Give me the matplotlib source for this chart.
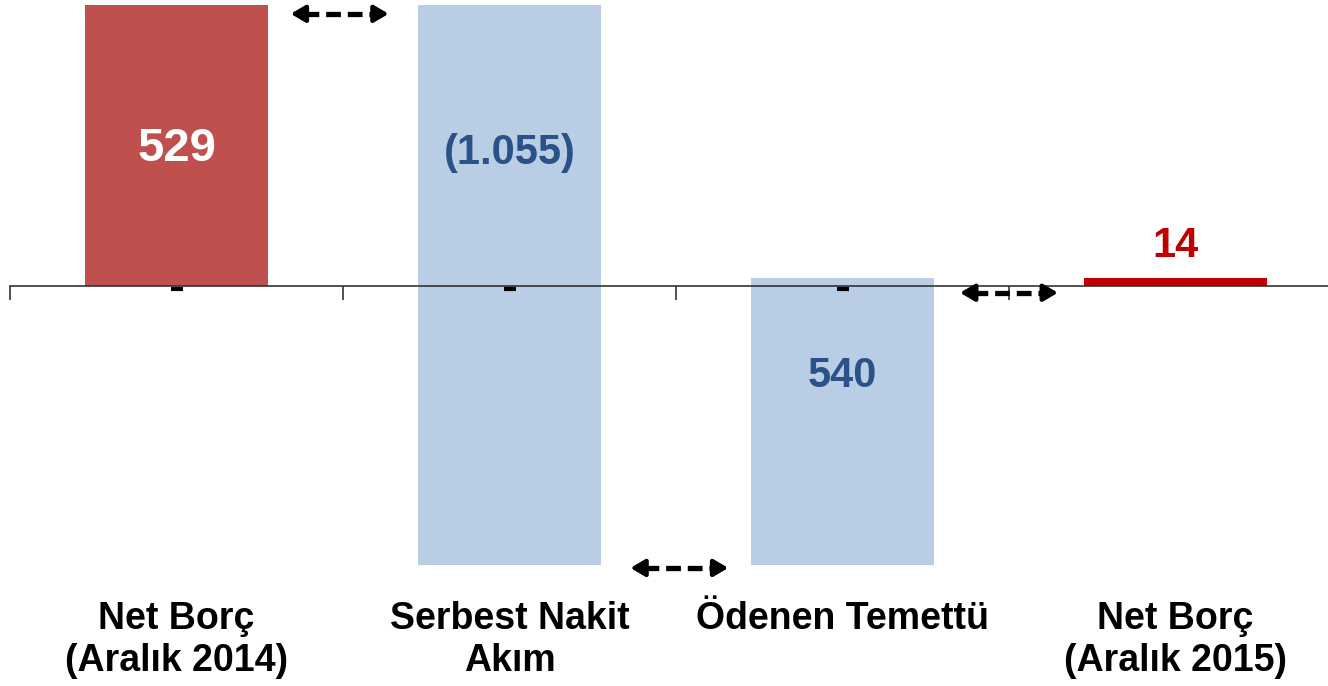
import matplotlib.pyplot as plt
import matplotlib.transforms as mtransforms

# Net borç köprüsü (milyon)
categories = ["Net Borç\n(Aralık 2014)", "Serbest Nakit\nAkım", "Ödenen Temettü", "Net Borç\n(Aralık 2015)"]
changes = [529, -1055, 540, 14]
value_labels = ["529", "(1.055)", "540", "14"]
label_y = [258, 250, -170, 75]
label_size = [34, 30, 30, 30]

bar_colors = ["#C0504D", "#B9CDE5", "#B9CDE5", "#C00000"]
text_colors = ["white", "#2A5288", "#2A5288", "#C00000"]

# waterfall bottoms / tops
bottoms = []
heights = []
level = 0
for i, c in enumerate(changes):
    if i == len(changes) - 1:
        bottoms.append(0)
        heights.append(c)
    else:
        bottoms.append(level)
        heights.append(c)
        level += c

fig = plt.figure(figsize=(13.28, 6.86), dpi=100)
ax = fig.add_axes([10 / 1328, 1 - 586 / 686, 1332 / 1328, 586 / 686])

x = list(range(len(categories)))
ax.bar(x, heights, bottom=bottoms, width=0.55, color=bar_colors, zorder=2)

ax.set_xlim(-0.5, 3.5)
ax.set_ylim(-565, 538)

for s in ["top", "right", "left"]:
    ax.spines[s].set_visible(False)
ax.spines["bottom"].set_position(("data", 0))
ax.spines["bottom"].set_color("#333333")
ax.spines["bottom"].set_linewidth(1.2)
ax.spines["bottom"].set_zorder(3)
ax.set_yticks([])
ax.set_xticks([-0.5, 0.5, 1.5, 2.5, 3.5])
ax.set_xticklabels([])
ax.tick_params(axis="x", direction="out", length=10, width=1.2, color="#333333")

font = "Liberation Sans"
for i, (lab, ly) in enumerate(zip(value_labels, label_y)):
    ax.text(i, ly, lab, ha="center", va="center", fontsize=label_size[i], fontweight="bold",
            color=text_colors[i], family=font, zorder=4)

# small "-" markers just under the zero line
ax.plot(x[:3], [-6] * 3, linestyle="none", marker="_", markersize=8,
        markeredgewidth=3, color="black", zorder=4)

# category labels below the chart
trans = mtransforms.blended_transform_factory(ax.transData, fig.transFigure)
for i, cat in enumerate(categories):
    ax.text(i, 1 - 601 / 686, cat, ha="center", va="top", fontsize=27, fontweight="bold",
            family=font, linespacing=1.2, transform=trans, clip_on=False)


# dashed double-headed connector arrows
def dashed_arrow(xc, y, half=0.147):
    x0, x1 = xc - half, xc + half
    h = 0.04
    ax.plot([x0 + h, x1 - h], [y, y], color="black", lw=3.8, dashes=(2.8, 1.3), zorder=5,
            solid_capstyle="butt", dash_capstyle="butt")
    for a, b in [(x0 + h + 0.005, x0), (x1 - h - 0.005, x1)]:
        ax.annotate("", xy=(b, y), xytext=(a, y),
                    arrowprops=dict(arrowstyle="-|>,head_length=0.85,head_width=0.5",
                                    color="black", lw=3.2, shrinkA=0, shrinkB=0), zorder=5)


levels = [sum(changes[:1]), sum(changes[:2]), 0]
dashed_arrow(0.49, levels[0] - 17)
dashed_arrow(1.51, levels[1] - 5)
dashed_arrow(2.5, levels[2] - 13)

plt.savefig("out.png", dpi=100)
